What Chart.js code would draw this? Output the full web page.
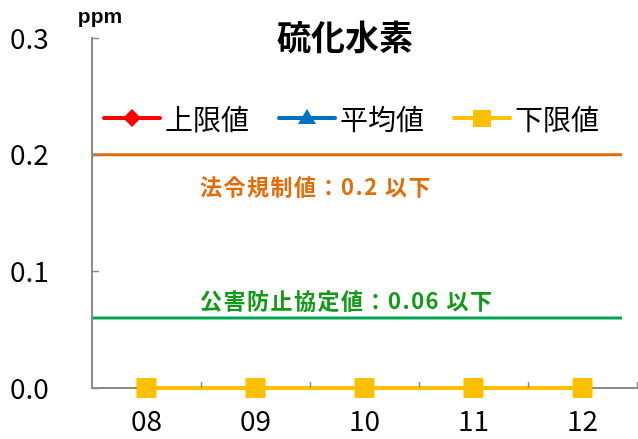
<!DOCTYPE html>
<html>
<head>
<meta charset="utf-8">
<script src="https://cdn.jsdelivr.net/npm/chart.js@4/dist/chart.umd.min.js"></script>
<style>
  html, body { margin: 0; padding: 0; background: #fff; }
</style>
</head>
<body>
<canvas id="chart" width="638" height="439"></canvas>
<script>
// 月別の測定値 (ppm)
const months = ['08', '09', '10', '11', '12'];
const upperValues = [0, 0, 0, 0, 0];
const averageValues = [0, 0, 0, 0, 0];
const lowerValues = [0, 0, 0, 0, 0];

// 基準値
const legalLimit = 0.2;
const agreementLimit = 0.06;
const legalLabel = '法令規制値：0.2 以下';
const agreementLabel = '公害防止協定値：0.06 以下';

const chartTitle = '硫化水素';
const unitLabel = 'ppm';

const axisColor = '#8c8c8c';
const jpFont = "'Noto Sans CJK JP', sans-serif";

// タイトルと単位
const titlePlugin = {
    id: 'titleText',
    afterDraw(chart) {
        const ctx = chart.ctx;
        ctx.save();
        ctx.fillStyle = '#000';
        ctx.textAlign = 'center';
        ctx.textBaseline = 'middle';
        ctx.font = 'bold 34px ' + jpFont;
        ctx.fillText(chartTitle, 345, 37);
        ctx.font = "bold 21px 'Liberation Sans', sans-serif";
        ctx.fillText(unitLabel, 100, 17);
        ctx.restore();
    }
};

// 基準値の横線とラベル
const limitPlugin = {
    id: 'limitLines',
    beforeDatasetsDraw(chart) {
        const ctx = chart.ctx;
        const area = chart.chartArea;
        const y = chart.scales.y;
        const lines = [
            { value: legalLimit, label: legalLabel, line: '#e36c09', text: '#e36c09', dy: 32 },
            { value: agreementLimit, label: agreementLabel, line: '#00a651', text: '#119a16', dy: -17 }
        ];
        ctx.save();
        lines.forEach(l => {
            const py = y.getPixelForValue(l.value);
            ctx.strokeStyle = l.line;
            ctx.lineWidth = 3;
            ctx.beginPath();
            ctx.moveTo(area.left + 1, py);
            ctx.lineTo(area.right - 15, py);
            ctx.stroke();
            ctx.fillStyle = l.text;
            ctx.font = 'bold 22px ' + jpFont;
            ctx.letterSpacing = '1.5px';
            ctx.textAlign = 'left';
            ctx.textBaseline = 'middle';
            ctx.fillText(l.label, 200, py + l.dy);
        });
        ctx.restore();
    }
};

// 内向きの目盛り
const innerTicksPlugin = {
    id: 'innerTicks',
    afterDraw(chart) {
        const ctx = chart.ctx;
        const x = chart.scales.x;
        const y = chart.scales.y;
        const area = chart.chartArea;
        ctx.save();
        ctx.strokeStyle = axisColor;
        ctx.lineWidth = 1.5;
        ctx.beginPath();
        const half = (x.getPixelForValue(1) - x.getPixelForValue(0)) / 2;
        months.forEach((m, i) => {
            const px = Math.round(x.getPixelForValue(i) + half) + 0.5;
            ctx.moveTo(px, area.bottom);
            ctx.lineTo(px, area.bottom - 6);
        });
        y.ticks.forEach(t => {
            const py = Math.round(y.getPixelForValue(t.value)) + 0.5;
            ctx.moveTo(area.left, py);
            ctx.lineTo(area.left + 7, py);
        });
        ctx.stroke();
        ctx.restore();
    }
};

// 凡例 (グラフ内)
const legendPlugin = {
    id: 'innerLegend',
    afterDraw(chart) {
        const ctx = chart.ctx;
        const cy = 118;
        let px = 104;
        ctx.save();
        ctx.font = '28px ' + jpFont;
        ctx.textBaseline = 'middle';
        chart.data.datasets.forEach(ds => {
            ctx.strokeStyle = ds.borderColor;
            ctx.lineWidth = 4;
            ctx.lineCap = 'round';
            ctx.beginPath();
            ctx.moveTo(px, cy);
            ctx.lineTo(px + 56, cy);
            ctx.stroke();
            const mx = px + 28;
            ctx.fillStyle = ds.backgroundColor;
            ctx.beginPath();
            if (ds.pointStyle === 'rectRot') {
                ctx.moveTo(mx, cy - 9);
                ctx.lineTo(mx + 9, cy);
                ctx.lineTo(mx, cy + 9);
                ctx.lineTo(mx - 9, cy);
            } else if (ds.pointStyle === 'triangle') {
                ctx.moveTo(mx, cy - 9);
                ctx.lineTo(mx + 9, cy + 6);
                ctx.lineTo(mx - 9, cy + 6);
            } else {
                ctx.rect(mx - 9, cy - 8, 18, 17);
            }
            ctx.closePath();
            ctx.fill();
            ctx.fillStyle = '#000';
            ctx.textAlign = 'left';
            ctx.fillText(ds.label, px + 61, cy + 1);
            px += 61 + ctx.measureText(ds.label).width + 30;
        });
        ctx.restore();
    }
};

function series(label, data, color, style, radius, order) {
    return {
        label,
        data,
        order,
        borderColor: color,
        backgroundColor: color,
        borderWidth: 4,
        pointStyle: style,
        pointRadius: radius,
        pointBorderWidth: 1,
        pointHoverRadius: radius,
        clip: false
    };
}

new Chart(document.getElementById('chart'), {
    type: 'line',
    data: {
        labels: months,
        datasets: [
            series('上限値', upperValues, '#ff0000', 'rectRot', 10, 3),
            series('平均値', averageValues, '#0070c0', 'triangle', 10, 2),
            series('下限値', lowerValues, '#ffc000', 'rect', 13.5, 1)
        ]
    },
    options: {
        responsive: false,
        devicePixelRatio: 1,
        animation: false,
        layout: { autoPadding: false, padding: { left: 10, right: 1, top: 38, bottom: 0 } },
        plugins: {
            legend: { display: false },
            title: { display: false },
            tooltip: { enabled: false }
        },
        scales: {
            x: {
                offset: true,
                grid: { drawOnChartArea: false, drawTicks: false },
                border: { color: axisColor, width: 2 },
                ticks: {
                    color: '#000',
                    padding: 16,
                    font: { family: jpFont, size: 28 }
                },
                afterFit(scale) {
                    scale.height = 51;
                    scale.paddingLeft = 0;
                    scale.paddingRight = 0;
                }
            },
            y: {
                min: 0,
                max: 0.3,
                grid: { drawOnChartArea: false, drawTicks: false },
                border: { color: axisColor, width: 2 },
                ticks: {
                    stepSize: 0.1,
                    color: '#000',
                    crossAlign: 'far',
                    font: { family: jpFont, size: 28 },
                    callback: v => v.toFixed(1)
                },
                afterFit(scale) { scale.width = 82; }
            }
        }
    },
    plugins: [limitPlugin, innerTicksPlugin, legendPlugin, titlePlugin]
});
</script>
</body>
</html>
